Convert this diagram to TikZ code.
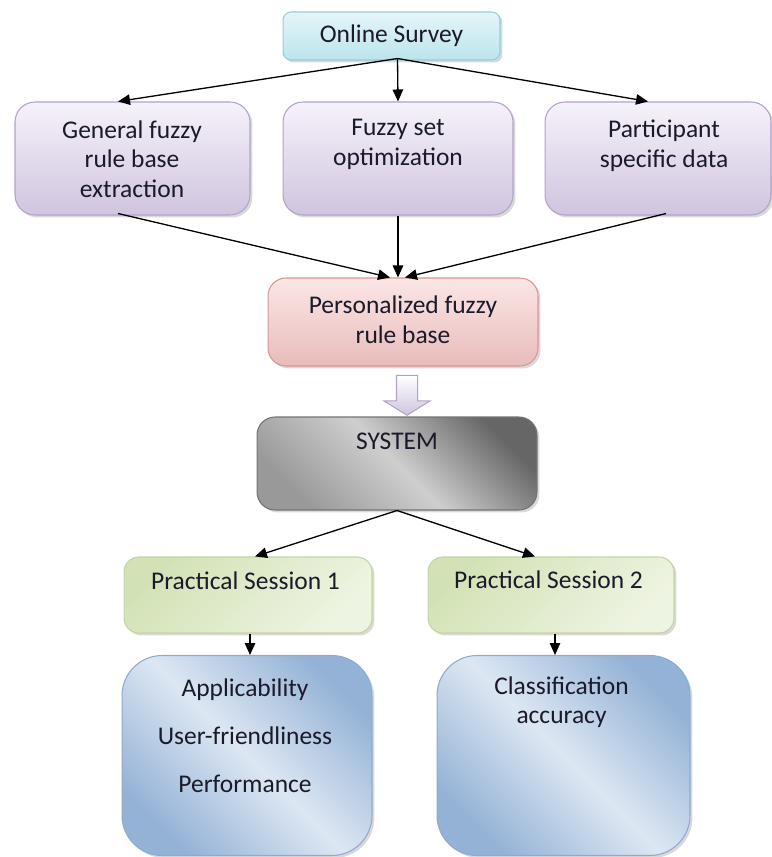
\documentclass[tikz,border=0pt]{standalone}
\usepackage{fontspec}
\setmainfont{Carlito}
\usetikzlibrary{arrows.meta,shadows,calc,shapes.arrows}

\definecolor{txtc}{HTML}{1A1A2A}
\definecolor{cyanA}{HTML}{E4F5F9}
\definecolor{cyanB}{HTML}{BCE4EC}
\definecolor{cyanL}{HTML}{93CDDD}
\definecolor{lilA}{HTML}{F6F2FA}
\definecolor{lilB}{HTML}{D0C4DF}
\definecolor{lilL}{HTML}{B3A2C7}
\definecolor{pinkA}{HTML}{FBE6E6}
\definecolor{pinkB}{HTML}{E8BCBB}
\definecolor{pinkL}{HTML}{D99694}
\definecolor{grnA}{HTML}{D3E2B6}
\definecolor{grnB}{HTML}{EEF4E2}
\definecolor{grnL}{HTML}{C3D69B}
\definecolor{bluA}{HTML}{94B2D6}
\definecolor{bluB}{HTML}{DDE7F3}
\definecolor{bluL}{HTML}{8EAAD0}

\tikzset{
  box/.style={draw, line width=0.6pt, inner sep=0pt,
    drop shadow={opacity=0.3, shadow xshift=1.4pt, shadow yshift=-1.4pt}},
  lilbox/.style={box, draw=lilL, top color=lilA, bottom color=lilB,
    rounded corners=0.4cm, minimum height=2.26cm},
  grnbox/.style={box, draw=grnL, top color=grnA, bottom color=grnB,
    shading angle=45, rounded corners=0.3cm, minimum height=1.52cm},
  blubox/.style={box, draw=bluL, top color=bluA, bottom color=bluA,
    middle color=bluB, shading angle=135, rounded corners=0.8cm,
    minimum height=4cm},
  txt/.style={align=center, text=txtc,
    font=\fontsize{14.5}{16.8}\selectfont},
}

\begin{document}
\begin{tikzpicture}[x=0.02cm, y=-0.02cm, line width=0.75pt,
    >={Triangle[length=0.24cm,width=0.21cm]}]
  \useasboundingbox (0,0) rectangle (771,857);

  % Boxes
  \node[box, draw=cyanL, top color=cyanA, bottom color=cyanB,
    rounded corners=0.16cm, minimum width=4.34cm, minimum height=0.96cm]
    (survey) at (391.5,36) {};
  \node[lilbox, minimum width=4.7cm] (gen) at (132.5,158.5) {};
  \node[lilbox, minimum width=4.6cm] (fso) at (398,158.5) {};
  \node[lilbox, minimum width=4.52cm] (part) at (658,158.5) {};
  \node[box, draw=pinkL, top color=pinkA, bottom color=pinkB,
    rounded corners=0.36cm, minimum width=5.4cm, minimum height=1.76cm]
    (pers) at (403,322) {};
  \node[box, draw=black!55, top color=black!40, bottom color=black!60,
    middle color=black!19, shading angle=135,
    rounded corners=0.36cm, minimum width=5.6cm, minimum height=1.86cm]
    (sys) at (397,463.5) {};
  \node[grnbox, minimum width=4.96cm] (ps1) at (248,595) {};
  \node[grnbox, minimum width=4.92cm] (ps2) at (551,595) {};
  \node[blubox, minimum width=5cm] (res1) at (247,755.5) {};
  \node[blubox, minimum width=5.06cm] (res2) at (563.5,755.5) {};

  % Block arrow
  \node[single arrow, shape border rotate=270, draw=lilL, line width=0.6pt,
    top color=white, bottom color=lilB, inner sep=0.2cm,
    minimum width=0.9cm, minimum height=0.8cm,
    single arrow head extend=0.25cm, single arrow tip angle=116]
    (blk) at (407,392) {};

  % Texts
  \node[txt] (survey-t) at (391.5,36) {Online Survey};
  \node[txt] (gen-t) at (132,159) {General fuzzy\\rule base\\extraction};
  \node[txt] (fso-t) at (398,144.5) {Fuzzy set\\optimization};
  \node[txt] (part-t) at (664,145.5) {Participant\\specific data};
  \node[txt] (pers-t) at (403,320) {Personalized fuzzy\\rule base};
  \node[txt] (sys-t) at (397,441) {SYSTEM};
  \node[txt] (ps1-t) at (245.5,581) {Practical Session 1};
  \node[txt] (ps2-t) at (548.5,580) {Practical Session 2};
  \node[txt, font=\fontsize{14.5}{27.3}\selectfont] (res1-t) at (245,736)
    {Applicability\\User-friendliness\\Performance};
  \node[txt] (res2-t) at (561.5,702) {Classification\\accuracy};

  % Arrows
  \foreach \t/\dx in {gen/-14.5, fso/0, part/-10} {
    \draw[->] ($(survey.south)+(6,-2)$) -- ($(\t.north)+(\dx,0)$);
  }
  \draw[->] ($(gen.south)+(-14.5,-2)$) -- ($(pers.north)+(-13,0)$);
  \draw[->] (fso.south) -- ($(pers.north)+(-5,0)$);
  \draw[->] ($(part.south)+(8,-2)$) -- ($(pers.north)+(2,0)$);
  \draw[->] (sys.south) -- ($(ps1.north)+(7,0)$);
  \draw[->] (sys.south) -- ($(ps2.north)+(-16,0)$);
  \draw[->] ($(ps1.south)+(2,0)$) -- ($(res1.north)+(3,0)$);
  \draw[->] ($(ps2.south)+(4,0)$) -- ($(res2.north)+(-8.5,0)$);
\end{tikzpicture}
\end{document}
